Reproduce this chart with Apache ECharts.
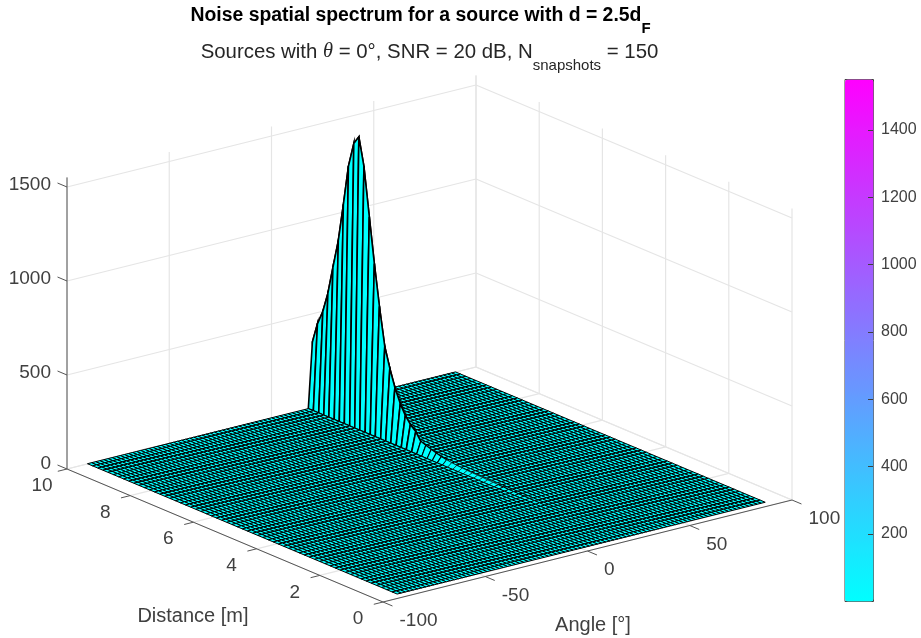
<!DOCTYPE html>
<html>
<head>
<meta charset="utf-8">
<style>html,body{margin:0;padding:0;background:#fff}#c{width:921px;height:638px}</style>
<script src="https://cdn.jsdelivr.net/npm/echarts@6/dist/echarts.min.js"></script>
</head>
<body>
<div id="c"></div>
<script>
// ---- data ----
const angles = [-90,-88,-86,-84,-82,-80,-78,-76,-74,-72,-70,-68,-66,-64,-62,-60,-58,-56,-54,-52,-50,-48,-46,-44,-42,-40,-38,-36,-34,-32,-30,-28,-26,-24,-22,-20,-18,-16,-14,-12,-10,-8,-6,-4,-2,0,2,4,6,8,10,12,14,16,18,20,22,24,26,28,30,32,34,36,38,40,42,44,46,48,50,52,54,56,58,60,62,64,66,68,70,72,74,76,78,80,82,84,86,88,90];
const distances = [0.2,0.36,0.53,0.69,0.85,1.02,1.18,1.34,1.51,1.67,1.83,2.0,2.16,2.32,2.49,2.65,2.81,2.98,3.14,3.3,3.47,3.63,3.79,3.96,4.12,4.28,4.45,4.61,4.77,4.94,5.1,5.26,5.43,5.59,5.75,5.92,6.08,6.24,6.41,6.57,6.73,6.9,7.06,7.22,7.39,7.55,7.71,7.88,8.04,8.2,8.37,8.53,8.69,8.86,9.02,9.18,9.35,9.51,9.67,9.84,10];
// spectrum along the ridge, one value per entry of distances
const ridgeValues = [1,1,1,1,1,1,1,1,1,1,1,2,2,2,2,2,3,3,3,4,4,5,5,6,7,8,9,10,11,12,13,15,17,20,24,30,37,45,55,64,105,131,168,219,293,383,488,690,906,1144,1400,1545,1498,1365,1150,947,793,643,536,458,350];
const ridgeAngle = 20;
const floorValue = 1;
const angleTicks = [-100,-50,0,50,100];
const distanceTicks = [0,2,4,6,8,10];
const zTicks = [0,500,1000,1500];
const colorTicks = [200,400,600,800,1000,1200,1400];
const zTop = 1551, zBottom = 1;

// ---- view of the 3-D box: orthographic projection onto the page ----
const view = {ox:383, oy:602, ax:409/200, ay:-102/200, dx:-31.6, dy:-13.3, zy:-0.188};
function project(angle, dist, z) {
  const a = angle + 100;
  return [view.ox + a*view.ax + dist*view.dx, view.oy + a*view.ay + dist*view.dy + z*view.zy];
}
const FONT = '"Liberation Sans", Arial, sans-serif';
const TXT = '#404040';

// surface cells, flat shaded from their first corner
const surfaceZ = (ai, di) => angles[ai] === ridgeAngle ? ridgeValues[di] : floorValue;
const cells = [];
for (let ai = angles.length - 2; ai >= 0; ai--) {
  for (let di = distances.length - 2; di >= 0; di--) {
    cells.push([ai, di, surfaceZ(ai, di)]);
  }
}

// box lines: [a1,d1,z1,a2,d2,z2]
const wallLines = [];
angleTicks.forEach(a => {
  wallLines.push([a,10,0,a,10,zTop]);
  wallLines.push([a,0,0,a,10,0]);
});
distanceTicks.forEach(d => {
  wallLines.push([100,d,0,100,d,zTop]);
  wallLines.push([-100,d,0,100,d,0]);
});
zTicks.forEach(z => {
  wallLines.push([-100,10,z,100,10,z]);
  wallLines.push([100,10,z,100,0,z]);
});
const axisLines = [
  [-100,10,0,-100,10,zTop],
  [-100,0,0,-100,10,0],
  [-100,0,0,100,0,0]
];
distanceTicks.forEach(d => axisLines.push([-100,d,0,-104.5,d,0]));
angleTicks.forEach(a => axisLines.push([a,0,0,a,-0.3,0]));
zTicks.forEach(z => axisLines.push([-100,10,z,-100,10.3,z]));

// tick and axis labels: [text, kind, value]
const labels = [];
zTicks.forEach(z => labels.push([String(z),'z',z]));
distanceTicks.forEach(d => labels.push([String(d),'d',d]));
angleTicks.forEach(a => labels.push([String(a),'a',a]));

function lineSeries(data, color, width) {
  return {
    type:'custom', coordinateSystem:'cartesian2d', xAxisIndex:0, yAxisIndex:0, silent:true, clip:false,
    data, progressive:0,
    renderItem(params, api) {
      const r = data[params.dataIndex];
      const p = api.coord(project(r[0],r[1],r[2]));
      const q = api.coord(project(r[3],r[4],r[5]));
      return {type:'line', shape:{x1:p[0],y1:p[1],x2:q[0],y2:q[1]}, style:{stroke:color,lineWidth:width,fill:null}};
    }
  };
}

const chart = echarts.init(document.getElementById('c'), null, {renderer:'canvas'});
chart.setOption({
  animation:false,
  backgroundColor:'#fff',
  title:[
    {left:420.5, top:6.5, padding:0, textAlign:'center', text:'{b|Noise spatial spectrum for a source with d = 2.5d}{bs|F}',
     textStyle:{rich:{
       b:{fontFamily:FONT,fontSize:19.4,fontWeight:'bold',color:'#000',verticalAlign:'top',lineHeight:22},
       bs:{fontFamily:FONT,fontSize:15,fontWeight:'bold',color:'#000',verticalAlign:'top',lineHeight:15,padding:[15,0,0,0]}
     }}},
    {left:429.5, top:42, padding:0, textAlign:'center', text:'{a|Sources with }{t|θ}{a| = 0°, SNR = 20 dB, N}{s|snapshots}{a| = 150}',
     textStyle:{rich:{
       a:{fontFamily:FONT,fontSize:20.4,fontWeight:'normal',color:'#262626',verticalAlign:'top',lineHeight:22},
       t:{fontFamily:'"Liberation Serif", serif',fontStyle:'italic',fontWeight:'normal',fontSize:20.4,color:'#262626',verticalAlign:'top',lineHeight:22},
       s:{fontFamily:FONT,fontSize:15,fontWeight:'normal',color:'#262626',verticalAlign:'top',lineHeight:15,padding:[16,0,0,0]}
     }}}
  ],
  grid:[
    {left:0, top:0, width:921, height:638, show:false},
    {left:844.5, top:79, width:28.5, height:522, show:false}
  ],
  xAxis:[
    {gridIndex:0, type:'value', min:0, max:921, show:false},
    {gridIndex:1, type:'value', min:0, max:1, show:false}
  ],
  yAxis:[
    {gridIndex:0, type:'value', min:0, max:638, inverse:true, show:false},
    {gridIndex:1, type:'value', min:zBottom, max:zTop, position:'right', z:10,
     splitLine:{show:false}, axisLine:{show:false,onZero:false},
     axisTick:{show:true, inside:true, length:5, lineStyle:{color:'#404040',width:1}, customValues:colorTicks},
     axisLabel:{show:true, margin:8, color:TXT, fontFamily:FONT, fontSize:16, formatter:v=>String(v), customValues:colorTicks}}
  ],
  visualMap:[{
    type:'continuous', seriesIndex:1, dimension:2, min:zBottom, max:zTop, calculable:false, realtime:false,
    left:844.5, top:79, itemWidth:28.5, itemHeight:522, padding:0, text:null, showLabel:false,
    borderColor:'#404040', borderWidth:1, hoverLink:false,
    inRange:{color:['#00ffff','#ff00ff']}
  }],
  series:[
    lineSeries(wallLines,'#e5e5e5',1.2),
    {
      type:'custom', coordinateSystem:'cartesian2d', xAxisIndex:0, yAxisIndex:0, silent:true, clip:false,
      data:cells, progressive:0, z:3,
      renderItem(params, api) {
        const ai = api.value(0), di = api.value(1);
        const onRidge = angles[ai] === ridgeAngle || angles[ai + 1] === ridgeAngle;
        const high = Math.max(ridgeValues[di], ridgeValues[di + 1]);
        const width = !onRidge || high < 8 ? 1 : high >= 100 ? 1.6 : high >= 30 ? 1.1 : 0.6;
        const pts = [[ai,di],[ai+1,di],[ai+1,di+1],[ai,di+1]].map(c =>
          api.coord(project(angles[c[0]], distances[c[1]], surfaceZ(c[0],c[1]))));
        return {type:'polygon', shape:{points:pts}, style:{fill:api.visual('color'), stroke:'#000', lineWidth:width}};
      }
    },
    Object.assign(lineSeries(axisLines,'#555555',1),{z:4}),
    {
      type:'custom', coordinateSystem:'cartesian2d', xAxisIndex:0, yAxisIndex:0, silent:true, clip:false,
      data:labels, progressive:0, z:5,
      renderItem(params, api) {
        const r = labels[params.dataIndex];
        let p, align='center';
        if (r[1]==='z') { p = api.coord(project(-100,10,r[2])); p=[p[0]-16,p[1]+(r[2]===0?-5:-2)]; align='right'; }
        else if (r[1]==='d') { p = api.coord(project(-100,r[2],0)); p=[p[0]-25,p[1]+17]; }
        else { p = api.coord(project(r[2],0,0)); p=[p[0]+16.5,p[1]+19]; align='left'; }
        return {type:'text', style:{text:r[0],x:p[0],y:p[1],align,verticalAlign:'middle',fill:TXT,font:'19px '+FONT}};
      }
    },
    {
      type:'custom', coordinateSystem:'cartesian2d', xAxisIndex:0, yAxisIndex:0, silent:true, clip:false,
      data:[['Distance [m]',193,616],['Angle [°]',593,625]], progressive:0, z:5,
      renderItem(params, api) {
        const n = ['Distance [m]','Angle [°]'][params.dataIndex];
        const pos = api.coord(params.dataIndex===0?[193,616]:[593,625]);
        return {type:'text', style:{text:n,x:pos[0],y:pos[1],align:'center',verticalAlign:'middle',fill:TXT,font:'20px '+FONT}};
      }
    }
  ]
});
</script>
</body>
</html>
